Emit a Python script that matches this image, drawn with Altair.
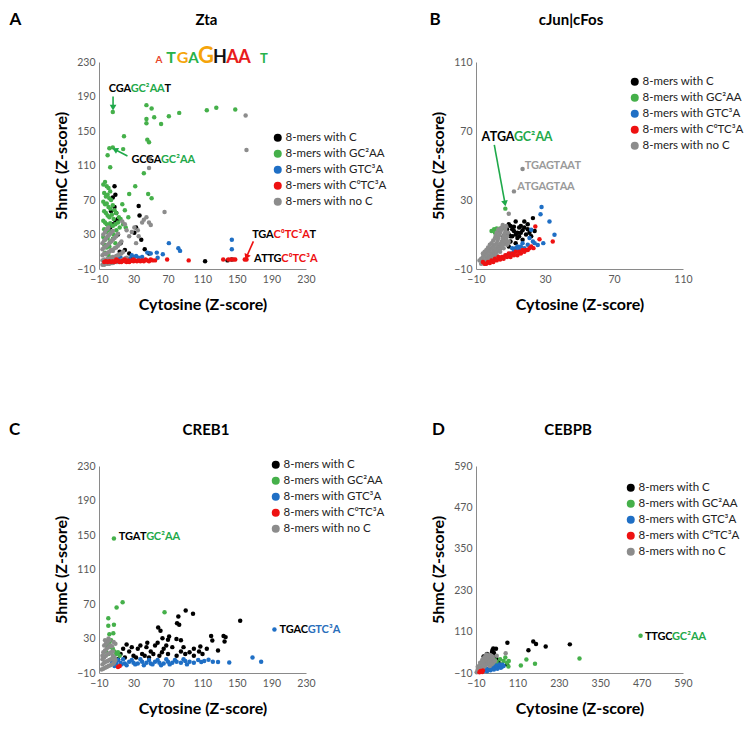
import math
import altair as alt
import pandas as pd

FONT = "Lato"
CATS = ["8-mers with C", "8-mers with GC²AA", "8-mers with GTC³A",
        "8-mers with C⁰TC³A", "8-mers with no C"]
KEYS = ["C", "GC", "GTC", "CTC", "NOC"]
PT_COLORS = ["#000000", "#45b04a", "#1f6fc5", "#ee1111", "#8c8c8c"]
DRAW_ORDER = ["C", "GC", "GTC", "NOC", "CTC"]
TXT = {"k": "#000000", "g": "#1fa94a", "b": "#2a6ebb", "r": "#ee1111", "s": "#9a9a9a"}

# ---------------- Panel A : Zta ----------------
A_C = [(8, 86), (9, 76), (6, 73), (8, 62), (4, 57), (10, 55), (9, 46), (12, 48), (6, 42), (3, 38),
       (37, 52), (36, 63), (31, 32), (33, 38), (39, 24), (43, 13), (48, 8), (25, 8), (28, 4),
       (20, 12), (15, 20), (12, 30), (14, 10), (113, -1), (139, 0), (144, 1)]
A_GC = [(6, 172), (45, 180), (51, 176), (45, 164), (45, 159), (54, 166), (62, 158), (71, 167),
        (83, 171), (115, 174), (126, 177), (148, 175), (19, 144), (46, 140), (48, 137), (2, 130),
        (6, 131), (18, 129), (0, 122), (3, 108), (42, 101), (32, 86), (25, 77), (47, 77), (51, 72),
        (17, 65), (20, 58), (24, 50),
        (-5, 88), (-3, 91), (-1, 86), (1, 84), (3, 80), (-4, 78), (-2, 74), (0, 76), (2, 72), (4, 70),
        (-5, 68), (-3, 65), (-1, 66), (1, 62), (3, 60), (6, 64), (8, 58), (-4, 57), (-2, 55), (0, 52),
        (2, 50), (5, 53), (7, 48), (10, 55), (13, 50), (-5, 46), (-3, 44), (-1, 42), (1, 40), (3, 43),
        (6, 40), (9, 42), (12, 44), (15, 48), (-4, 36), (-2, 33), (0, 35), (2, 30), (4, 33), (7, 30),
        (10, 35), (14, 38), (18, 42), (21, 38), (-5, 27), (-3, 24), (0, 26), (3, 22), (6, 25), (9, 20),
        (-4, 18), (-1, 15), (2, 16), (5, 12), (-3, 9), (1, 6)]
A_GTC = [(71, 20), (82, 14), (84, 11), (144, 24), (144, 13), (57, 9), (50, 8), (46, 9), (40, 4),
         (33, 5), (30, 3), (25, 2), (20, 2), (15, 3), (36, 3), (58, 3), (12, 2), (28, 6), (64, 7)]
A_CTC = [(-4, -2), (-2, -1), (0, -2), (2, -1), (4, -2), (6, -1), (8, -2), (10, -1), (12, 0), (14, -2),
         (16, -1), (18, 0), (20, -1), (22, -2), (24, 0), (26, -1), (28, 0), (30, -1), (32, 0), (34, -1),
         (36, 0), (38, -1), (40, 0), (42, -1), (44, 1), (46, 0), (48, -1), (50, 1), (52, 0), (55, 0),
         (69, 1), (94, 0), (134, 1), (140, 1), (143, 1), (146, 1), (148, 1), (159, 1), (161, 1),
         (10, 1), (20, 1), (30, 1), (16, -2), (25, -2)]
A_NOC = [(160, 168), (161, 128), (66, 56), (48, 107), (49, 118), (42, 47), (45, 50), (40, 44),
         (48, 44), (50, 41), (35, 35), (31, 38), (28, 33), (25, 28), (22, 35), (20, 42), (17, 45),
         (33, 20), (36, 28),
         (-6, -5), (-4, -5), (-2, -4), (0, -4), (2, -4), (4, -3), (6, -3), (8, -2), (10, -2), (12, -2),
         (14, -1), (16, 0), (18, 1), (20, 2), (22, 3), (-6, 0), (-4, 1), (-2, 0), (0, 2), (2, 1), (4, 3),
         (6, 4), (8, 3), (10, 5), (12, 6), (14, 7), (16, 8), (18, 10), (-6, 6), (-4, 8), (-2, 7), (0, 9),
         (2, 10), (4, 12), (6, 11), (8, 14), (10, 15), (12, 17), (14, 19), (16, 22), (-6, 13), (-4, 15),
         (-2, 16), (0, 18), (2, 20), (4, 22), (6, 24), (8, 26), (10, 28), (12, 31), (-6, 20), (-4, 23),
         (-2, 25), (0, 28), (2, 30), (4, 32), (6, 34), (-5, 30), (-3, 33), (-1, 36), (1, 38)]

# ---------------- Panel B : cJun|cFos ----------------
B_C = [(23, 19.5), (18, 17.6), (13, 17.5), (15, 14), (20, 13), (10, 15), (12, 12), (16, 11), (19, 10),
       (22, 9), (8, 13), (9, 10), (11, 9), (14, 8), (17, 7), (7, 8), (10, 6), (13, 5), (6, 5), (9, 3),
       (4, 2), (20, 16), (24, 12), (11, 13), (16, 15), (9, 16), (12, 14.5), (14, 11), (17, 12.5),
       (8, 11), (10, 9), (13, 10), (15, 9), (6, 9), (18, 14), (21, 11)]
B_GC = [(7, 25), (0.5, 13), (2, 13.5), (4, 13.5), (5.5, 13.8), (-1, 12), (1, 11), (3, 12)]
B_GTC = [(28, 26), (32.6, 17.6), (27.4, 21.8), (22, 12.7), (35.5, 9.8), (25.8, 3.9), (20, 4), (18, 2),
         (15, 1), (12, 0), (10, -1), (8, -2), (6, -3), (4, -4), (23, 6), (17, 5), (14, 3), (21, 8),
         (19, 1), (11, 2), (29, 5), (16, 3), (13, 2), (24, 5)]
B_CTC = [(24.4, 14.7), (26.8, 7.3), (34.5, 6), (23.3, 2.1), (-6, -6), (-5, -7), (-3, -6), (-1, -5),
         (1, -4), (3, -3), (5, -3), (7, -2), (9, -1), (11, -1), (13, 0), (15, 0), (17, 1), (19, 1),
         (21, 2), (2, -5), (6, -4), (10, -3), (14, -2), (0, -6), (4, -4.5), (8, -3), (12, -2),
         (16, -1), (18, 0), (20, 1), (22, 3), (-4, -7), (-2, -6.5)]
B_NOC = [(17, 48), (12, 35), (9, 22),
         (-7, -7), (-6, -6), (-5, -5), (-4, -4), (-3, -3), (-2, -2), (-1, -1), (0, 0), (1, 1), (2, 2),
         (3, 3), (4, 4.5), (5, 6), (5.5, 7.5), (6, 9), (6.5, 10.5), (7, 12), (7, 13.5), (7.5, 15),
         (-8, -5), (-7, -4), (-6, -3), (-5, -2), (-4, -1), (-3, 0), (-2, 1), (-1, 2), (0, 3), (1, 4),
         (2, 5), (2.5, 6.5), (3, 8), (3.5, 9.5), (4, 11), (4.5, 12.5), (5, 14), (5.5, 15.5),
         (-6, -1), (-5, 0), (-4, 1), (-3, 2.5), (-2, 4), (-1, 5), (0, 6.5), (1, 8), (1.5, 9.5),
         (2, 11), (3, 13),
         (-5, -7), (-4, -6), (-3, -5), (-2, -4), (-1, -3), (0, -2), (1, -1), (2, 0), (3, 1), (4, 2),
         (5, 3), (6, 4.5), (7, 6), (7.5, 7.5), (8, 9), (8.5, 11),
         (0, -4), (2, -2), (4, 0), (6, 2), (8, 4), (9, 6)]

# ---------------- Panel C : CREB1 ----------------
C_C = [(90.5, 62.4), (99, 58.6), (153.7, 50.5), (82, 55.5), (80.5, 47.8), (83, 46), (58.6, 42.8),
       (61.3, 39), (71.3, 32.4), (70, 28.5), (63.6, 30.4), (79.8, 29.3), (120, 33), (121.4, 27.7),
       (134.4, 33), (136.8, 31.6), (135.6, 26.6), (128, 16.2), (107.5, 20.8), (106, 15), (95, 14),
       (100, 18), (85, 15), (75, 20), (65, 18), (55, 22), (50, 15), (45, 20), (40, 12), (35, 18),
       (30, 10), (25, 15), (20, 8), (15, 12), (60, 10), (70, 12), (80, 10), (90, 12), (48, 8), (38, 22),
       (28, 20), (18, 18), (33, 8), (43, 10), (53, 12), (63, 14), (58, 25), (68, 22), (12, 6), (22, 23),
       (46, 25), (88, 20), (100, 10), (110, 12), (115, 18), (85, 28)]
C_GC = [(7.3, 146), (10.4, 66), (17.4, 72), (66, 60.5), (0.8, 53.6), (7.3, 46), (0.8, 44.7), (2, 35),
        (6.6, 36), (0, 27), (2, 25), (4, 28), (-1, 22), (3, 20), (6, 18), (8, 15), (10, 12), (12, 14),
        (14, 10), (-2, 15), (1, 12)]
C_GTC = [(193.4, 40.5), (168, 8), (178, 3), (141, 2.3), (128, 2.7), (117, 5.4), (108.6, 2.7), (100, 2),
         (95, 3), (90, 4), (85, 2), (80, 3), (75, 2), (70, 3), (65, 1), (60, 2), (55, 3), (50, 1),
         (45, 2), (40, 3), (35, 1), (30, 2), (25, 3), (20, 1), (15, 2), (10, 1), (5, 3), (12, 5), (18, 6),
         (28, 5), (38, 6), (48, 5), (58, 5), (68, 6), (78, 5), (88, 6), (22, -1), (32, 0), (42, -1),
         (52, 0), (62, -1), (72, 0), (8, -2), (16, 0), (92, 0), (112, 4), (122, 3), (105, 5)]
C_CTC = [(12, -3), (14, -2)]
C_NOC = [(-7, -6), (-5, -5), (-3, -4), (-1, -3), (1, -2), (3, -1), (5, 0), (7, 1), (-6, 0), (-4, 2),
         (-2, 3), (0, 4), (2, 5), (4, 6), (6, 7), (8, 8), (-6, 6), (-4, 8), (-2, 10), (0, 12), (2, 13),
         (4, 14), (6, 15), (-5, 14), (-3, 16), (-1, 18), (1, 20), (3, 22), (5, 21), (-4, 22), (-2, 24),
         (0, 26), (2, 28), (-6, 10), (6, 10), (8, 3), (9, 5), (-3, 28), (1, 30), (7, 26), (9, 24)]

# ---------------- Panel D : CEBPB ----------------
D_C = [(81, 78), (156, 81), (164, 74), (192, 67), (262, 73), (142, 56), (37, 52), (40, 61), (38, 57),
       (35, 45), (30, 40), (25, 35), (20, 30), (15, 25), (42, 48), (45, 35), (50, 30), (28, 20),
       (18, 15), (10, 8), (5, 20), (12, 38), (22, 45), (55, 25), (60, 15), (80, 15), (48, 60), (33, 30)]
D_GC = [(467, 98), (290, 32), (136, 29), (161, 17), (120, 12), (84, 9), (80, 20), (70, 25), (60, 30),
        (50, 22), (40, 18), (65, 15), (55, 10), (45, 28), (75, 35), (35, 12), (30, 25), (85, 25)]
D_GTC = [(10, -5), (15, -3), (20, 0), (25, 2), (30, 4), (35, 3), (40, 5), (45, 6), (50, 8), (55, 10),
         (60, 12), (65, 8), (70, 10), (62, 5), (52, 2), (42, 0), (32, -2), (22, -5), (48, 12), (58, 15),
         (67, 14)]
D_CTC = [(0, -8), (5, -6), (10, -3), (3, -4), (8, -7)]
D_NOC = [(76, 47), (-8, -8), (-5, -5), (-2, -2), (1, 1), (4, 4), (7, 7), (10, 10), (13, 13), (16, 16),
         (19, 19), (22, 22), (25, 25), (28, 28), (31, 31), (34, 34), (37, 38), (-5, 0), (-2, 3), (1, 6),
         (4, 9), (7, 12), (10, 15), (13, 18), (16, 21), (19, 24), (22, 27), (25, 30), (28, 33), (31, 36),
         (34, 40), (0, -5), (3, -2), (6, 1), (9, 4), (12, 7), (15, 10), (18, 13), (21, 16), (24, 19),
         (27, 22), (30, 25), (33, 28), (36, 31), (39, 34), (-5, 8), (0, 12), (5, 16), (10, 22), (15, 28),
         (20, 33), (25, 38), (30, 42), (2, 20), (8, 28), (14, 36), (20, 44), (40, 20), (45, 25),
         (35, 15), (30, 10), (50, 40)]

TICKS_230 = [-10, 30, 70, 110, 150, 190, 230]
TICKS_110 = [-10, 30, 70, 110]
TICKS_590 = [-10, 110, 230, 350, 470, 590]

# sequence logo letters of panel A: (letter, x position, colour, font size)
LOGO = [("A", 59.6, "#e8432a", 10), ("T", 73.5, "#27b24a", 16), ("G", 86.8, "#f5a40a", 16),
        ("A", 99.6, "#27b24a", 15), ("G", 114.1, "#f5a40a", 22), ("H", 130.3, "#111111", 18),
        ("A", 144.8, "#e81c1c", 18), ("A", 158.7, "#e81c1c", 18), ("T", 181.3, "#27b24a", 13)]

# character widths (px) for bold text at 11 px
W = {"A": 7.4, "C": 7.0, "G": 7.6, "T": 6.2, "H": 8.2, "²": 4.2, "³": 4.2, "⁰": 4.4}

PANELS = [
    dict(dom=(-10, 230), ticks=TICKS_230, pts=dict(C=A_C, GC=A_GC, GTC=A_GTC, CTC=A_CTC, NOC=A_NOC),
         legend=(173, 70), letter="A", letter_xy=(-83.5, -42), title="Zta", title_xy=(107.5, -42),
         annots=[([("CGA", "k"), ("GC²AA", "g"), ("T", "k")], 1.6, 198.7, 11),
                 ([("GCGA", "k"), ("GC²AA", "g")], 27.9, 116.4, 11),
                 ([("TGA", "k"), ("C⁰TC³A", "r"), ("T", "k")], 167.8, 29.4, 11),
                 ([("ATTG", "k"), ("C⁰TC³A", "r")], 169.7, 1.2, 11)],
         arrows=[((6.3, 190), (6.3, 177), "g"), ((23, 121), (8.5, 128.5), "g"),
                 ((169, 22), (161, 4), "r")],
         logo=True),
    dict(dom=(-10, 110), ticks=TICKS_110, pts=dict(C=B_C, GC=B_GC, GTC=B_GTC, CTC=B_CTC, NOC=B_NOC),
         legend=(153, 14), letter="B", letter_xy=(-41, -42), title="cJun|cFos", title_xy=(95, -42),
         annots=[([("ATGA", "k"), ("GC²AA", "g")], -6.7, 66.7, 12.5),
                 ([("TGAGTAAT", "s")], 18.4, 49.9, 11),
                 ([("ATGAGTAA", "s")], 14.0, 37.7, 11)],
         arrows=[((0.6, 62), (6.8, 28), "g")], logo=False),
    dict(dom=(-10, 230), ticks=TICKS_230, pts=dict(C=C_C, GC=C_GC, GTC=C_GTC, CTC=C_CTC, NOC=C_NOC),
         legend=(171, -7), letter="C", letter_xy=(-84.5, -36), title="CREB1", title_xy=(107, -36),
         annots=[([("TGAT", "k"), ("GC²AA", "g")], 13.2, 148, 11),
                 ([("TGAC", "k"), ("GTC³A", "b")], 199.5, 39.9, 11)],
         arrows=[], logo=False),
    dict(dom=(-10, 590), ticks=TICKS_590, pts=dict(C=D_C, GC=D_GC, GTC=D_GTC, CTC=D_CTC, NOC=D_NOC),
         legend=(149, 16), letter="D", letter_xy=(-37.5, -36), title="CEBPB", title_xy=(92, -36),
         annots=[([("TTGC", "k"), ("GC²AA", "g")], 480.7, 95.2, 11)],
         arrows=[], logo=False),
]

PW = PH = 207


def build(spec):
    lo, hi = spec["dom"]
    s = PW / (hi - lo)
    rows = []
    for i, k in enumerate(DRAW_ORDER):
        for (x, y) in spec["pts"][k]:
            rows.append({"x": x, "y": y, "cat": CATS[KEYS.index(k)], "o": i})
    df = pd.DataFrame(rows)
    sc = alt.Scale(domain=[lo, hi], nice=False, zero=False)
    X = alt.X("x:Q", scale=sc, axis=alt.Axis(values=spec["ticks"], title="Cytosine (Z-score)",
                                             labelFlush=False, labelOverlap=False))
    Y = alt.Y("y:Q", scale=sc, axis=alt.Axis(values=spec["ticks"], title="5hmC (Z-score)",
                                             labelOverlap=False))
    lx, ly = spec["legend"]
    layers = [alt.Chart(df).mark_circle(size=20, opacity=1).encode(
        x=X, y=Y,
        color=alt.Color("cat:N", scale=alt.Scale(domain=CATS, range=PT_COLORS), title=None,
                        legend=alt.Legend(orient="none", legendX=lx, legendY=ly, symbolType="circle",
                                          symbolSize=64, symbolStrokeWidth=0, symbolOpacity=1,
                                          labelFont=FONT, labelFontSize=11.5, labelColor="#222222",
                                          rowPadding=3, labelOffset=2, labelLimit=300, padding=0)),
        order=alt.Order("o:Q"))]

    # arrows
    for (x0, y0), (x1, y1), c in spec["arrows"]:
        adf = pd.DataFrame({"x": [x0], "y": [y0], "x2": [x1], "y2": [y1]})
        layers.append(alt.Chart(adf).mark_rule(color=TXT[c], strokeWidth=1.6).encode(
            x=X, y=Y, x2="x2:Q", y2="y2:Q"))
        dxp = (x1 - x0) * s
        dyp = -(y1 - y0) * s
        ang = math.degrees(math.atan2(dxp, -dyp)) % 360
        hdf = pd.DataFrame({"x": [x1], "y": [y1]})
        layers.append(alt.Chart(hdf).mark_point(shape="triangle-up", filled=True, size=45, opacity=1,
                                                strokeWidth=0, angle=round(ang, 1),
                                                color=TXT[c]).encode(x=X, y=Y))

    # multi-coloured annotations, one glyph at a time
    groups = {}
    for segs, ax, ay, fs in spec["annots"]:
        cum = 0.0
        for txt, c in segs:
            for ch in txt:
                w = W.get(ch, 7.0) * fs / 11.0
                groups.setdefault((c, fs), []).append({"x": ax + (cum + w / 2) / s, "y": ay, "ch": ch})
                cum += w
    for (c, fs), r in groups.items():
        layers.append(alt.Chart(pd.DataFrame(r)).mark_text(
            font=FONT, fontSize=fs, fontWeight="bold", color=TXT[c], align="center",
            baseline="middle").encode(x=X, y=Y, text="ch:N"))

    if spec["logo"]:
        for ch, lxp, col, fs in LOGO:
            ldf = pd.DataFrame({"x": [lxp], "y": [229.0], "ch": [ch]})
            layers.append(alt.Chart(ldf).mark_text(
                font=FONT, fontSize=fs, fontWeight="bold", color=col, align="center",
                baseline="alphabetic").encode(x=X, y=Y, text="ch:N"))

    # panel letter and title
    tx, ty = spec["letter_xy"]
    layers.append(alt.Chart(pd.DataFrame({"t": [spec["letter"]]})).mark_text(
        font=FONT, fontSize=17, fontWeight="bold", color="#000", align="center",
        baseline="middle").encode(x=alt.value(tx), y=alt.value(ty), text="t:N"))
    tx, ty = spec["title_xy"]
    layers.append(alt.Chart(pd.DataFrame({"t": [spec["title"]]})).mark_text(
        font=FONT, fontSize=15, fontWeight="bold", color="#000", align="center",
        baseline="middle").encode(x=alt.value(tx), y=alt.value(ty), text="t:N"))

    return alt.layer(*layers).properties(width=PW, height=PH)


charts = [build(p) for p in PANELS]

chart = alt.concat(*charts, columns=2, spacing={"row": 197, "column": 170}, bounds="flush").resolve_scale(
    color="independent"
).properties(
    padding={"left": 0, "top": 3, "right": 0, "bottom": 0}
).configure(font=FONT).configure_view(stroke=None).configure_axis(
    grid=False, ticks=False, domainColor="#8a8a8a", domainWidth=1, labelColor="#595959",
    labelFont=FONT, labelFontSize=10.5, labelPadding=4, titleFont=FONT, titleFontSize=16,
    titleFontWeight="bold", titleColor="#000000"
).configure_axisX(titlePadding=12, labelPadding=5).configure_axisY(titlePadding=7)

chart.save("out.html", embed_options={"renderer": "svg", "actions": False})
